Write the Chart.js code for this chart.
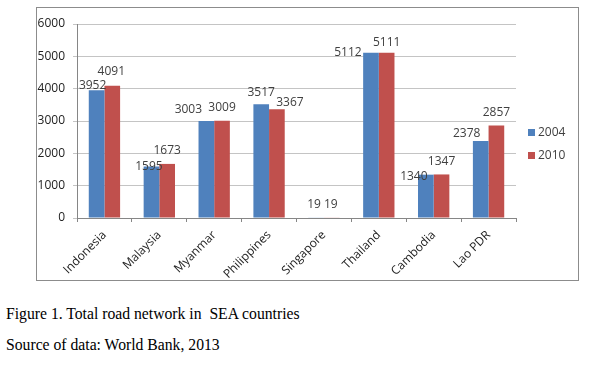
<!DOCTYPE html>
<html>
<head>
<meta charset="utf-8">
<script src="https://cdn.jsdelivr.net/npm/chart.js@4.4.0/dist/chart.umd.min.js"></script>
<style>
  body { margin: 0; background: #fff; width: 593px; height: 367px; position: relative; overflow: hidden; }
  #frame { position: absolute; left: 36px; top: 7px; width: 541px; height: 272px; border: 1px solid #8c8c8c; }
  #frame canvas { display: block; }
  .cap { position: absolute; left: 6px; font-family: "Liberation Serif", "Times New Roman", serif; font-size: 15.7px; color: #000; white-space: pre; }
</style>
</head>
<body>
<div id="frame"><canvas id="roadChart" width="541" height="272"></canvas></div>
<div class="cap" style="top:305px">Figure 1. Total road network in  SEA countries</div>
<div class="cap" style="top:336px">Source of data: World Bank, 2013</div>
<script>
// data
const countries = ["Indonesia", "Malaysia", "Myanmar", "Philippines", "Singapore", "Thailand", "Cambodia", "Lao PDR"];
const road2004 = [3952, 1595, 3003, 3517, 19, 5112, 1340, 2378];
const road2010 = [4091, 1673, 3009, 3367, 19, 5111, 1347, 2857];
const yTicks = [0, 1000, 2000, 3000, 4000, 5000, 6000];

const BLUE = "#4f81bd";
const RED = "#c0504d";
const FONT = { family: "'Open Sans', 'DejaVu Sans', sans-serif", size: 12 };

// label nudges (dx, dy from bar top) so overlapping labels sit like the original
const labelShift = [
  [[-4, -5], [-2.5, 0], [-18, -11], [0, -12], [-2, -13], [-23, 0], [-12, 2], [-14, -8]],
  [[-1, -14], [0, -13], [0, -13], [13, -7], [-1, -13], [0, -10], [0, -12.5], [0, -13]]
];

// value labels above bars
const valueLabels = {
  id: "valueLabels",
  afterDatasetsDraw(chart) {
    const ctx = chart.ctx;
    ctx.save();
    ctx.font = `${FONT.size}px ${FONT.family}`;
    ctx.fillStyle = "#404040";
    ctx.textAlign = "center";
    ctx.textBaseline = "middle";
    chart.data.datasets.forEach((ds, di) => {
      const meta = chart.getDatasetMeta(di);
      meta.data.forEach((bar, i) => {
        const s = labelShift[di][i] || [0, -13];
        ctx.fillText(String(ds.data[i]), bar.x + s[0], bar.y + s[1]);
      });
    });
    ctx.restore();
  }
};

// small square legend on the right, like Excel
const sideLegend = {
  id: "sideLegend",
  afterDraw(chart) {
    const ctx = chart.ctx;
    const area = chart.chartArea;
    const x = area.right + 12;
    const midY = (chart.height) / 2;
    const n = chart.data.datasets.length;
    const step = 23;
    ctx.save();
    ctx.font = `${FONT.size}px ${FONT.family}`;
    ctx.textBaseline = "middle";
    ctx.textAlign = "left";
    chart.data.datasets.forEach((ds, i) => {
      const y = midY + (i - (n - 1) / 2) * step;
      ctx.fillStyle = ds.backgroundColor;
      ctx.fillRect(x, y - 3.5, 7, 7);
      ctx.fillStyle = "#404040";
      ctx.fillText(ds.label, x + 10, y);
    });
    ctx.restore();
  }
};

new Chart(document.getElementById("roadChart"), {
  type: "bar",
  data: {
    labels: countries,
    datasets: [
      { label: "2004", data: road2004, backgroundColor: BLUE },
      { label: "2010", data: road2010, backgroundColor: RED }
    ]
  },
  options: {
    responsive: false,
    animation: false,
    devicePixelRatio: 1,
    layout: { padding: { top: 16, right: 62, left: 0, bottom: 0 } },
    datasets: { bar: { categoryPercentage: 0.571, barPercentage: 1 } },
    plugins: {
      legend: { display: false },
      tooltip: { enabled: false }
    },
    scales: {
      x: {
        grid: { offset: true, drawOnChartArea: false, drawTicks: true, tickLength: 4, color: "#868686" },
        border: { color: "#868686" },
        ticks: { color: "#222", font: FONT, minRotation: 45, maxRotation: 45, padding: 6 },
        afterFit(scale) { scale.height = 62; }
      },
      y: {
        min: 0,
        max: 6000,
        afterBuildTicks(scale) { scale.ticks = yTicks.map(v => ({ value: v })); },
        grid: { color: "#c4c4c4", tickLength: 4 },
        border: { color: "#868686" },
        ticks: { color: "#222", font: FONT, padding: 8, callback: v => String(v) },
        afterFit(scale) { scale.width = 40; }
      }
    }
  },
  plugins: [valueLabels, sideLegend]
});
</script>
</body>
</html>
